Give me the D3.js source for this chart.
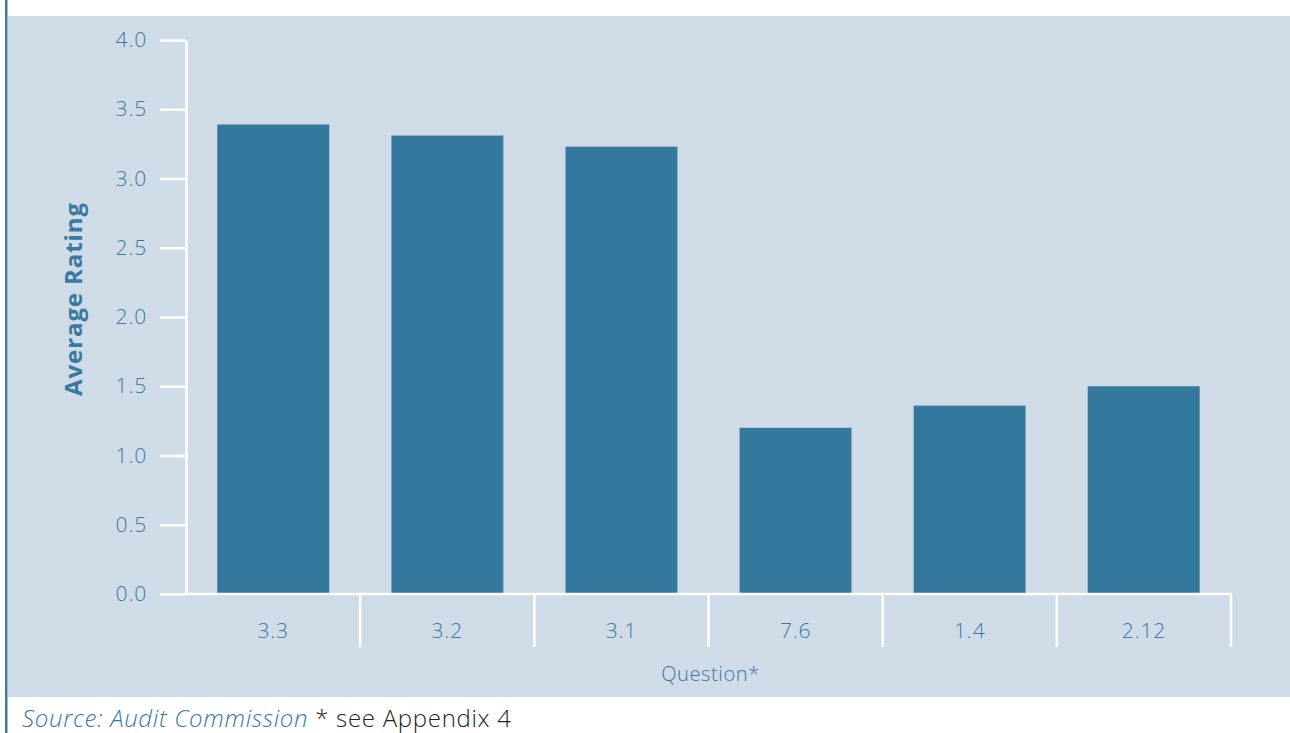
<!DOCTYPE html>
<html>
<head>
<meta charset="utf-8">
<script src="https://cdn.jsdelivr.net/npm/d3@7/dist/d3.min.js"></script>
<style>
  html, body { margin: 0; padding: 0; background: #ffffff; }
  svg { display: block; }
  text { font-family: "Open Sans", Lato, sans-serif; }
</style>
</head>
<body>
<svg id="chart" width="1290" height="733"></svg>
<script>
// Average rating per questionnaire item
const questions = ["3.3", "3.2", "3.1", "7.6", "1.4", "2.12"];
const ratings = [3.39, 3.31, 3.23, 1.2, 1.36, 1.5];
const yTicks = [0, 0.5, 1, 1.5, 2, 2.5, 3, 3.5, 4];

const W = 1290, H = 733;
const panelColor = "#cfdbe6";
const barColor = "#34789d";
const textColor = "#3879a1";

const svg = d3.select("#chart");

// panel background and left rule
svg.append("rect").attr("x", 8).attr("y", 16).attr("width", W - 8).attr("height", 681).attr("fill", panelColor);
svg.append("rect").attr("x", 5).attr("y", 0).attr("width", 2.5).attr("height", H).attr("fill", "#3a7ea5");

const plotLeft = 186, plotRight = 1231, plotTop = 40, plotBottom = 594;

const x = d3.scaleBand().domain(questions).range([plotLeft, plotRight]).paddingInner(0.357).paddingOuter(0.18);
const band = d3.scaleBand().domain(questions).range([plotLeft, plotRight]);
const y = d3.scaleLinear().domain([0, 4]).range([plotBottom, plotTop]);

// bars
svg.append("g").selectAll("rect").data(questions).join("rect")
  .attr("x", (d) => x(d))
  .attr("width", x.bandwidth())
  .attr("y", (d, i) => y(ratings[i]))
  .attr("height", (d, i) => y(0) - y(ratings[i]))
  .attr("fill", barColor);

// y axis
const yAxis = svg.append("g").attr("transform", `translate(${plotLeft},0)`)
  .call(d3.axisLeft(y).tickValues(yTicks).tickFormat(d3.format(".1f")).tickSize(26).tickSizeOuter(0).tickPadding(13));
yAxis.select(".domain").attr("stroke", "#ffffff").attr("stroke-width", 2.5);
yAxis.selectAll(".tick line").attr("stroke", "#ffffff").attr("stroke-width", 2.5);
yAxis.selectAll(".tick text").attr("fill", textColor).attr("font-size", 21).attr("font-weight", 300)
  .attr("letter-spacing", 0.8);

// x axis: labels centred in each band, ticks on band boundaries
const xAxis = svg.append("g").attr("transform", `translate(0,${plotBottom})`)
  .call(d3.axisBottom(band).tickSize(0).tickPadding(29));
xAxis.select(".domain").remove();
xAxis.selectAll(".tick text").attr("fill", textColor).attr("font-size", 21).attr("font-weight", 300)
  .attr("letter-spacing", 0.8);
svg.append("line").attr("x1", plotLeft - 1).attr("x2", plotRight + 1).attr("y1", plotBottom).attr("y2", plotBottom)
  .attr("stroke", "#ffffff").attr("stroke-width", 2.5);
svg.append("g").selectAll("line").data(questions).join("line")
  .attr("x1", (d) => band(d) + band.bandwidth()).attr("x2", (d) => band(d) + band.bandwidth())
  .attr("y1", plotBottom).attr("y2", plotBottom + 53)
  .attr("stroke", "#ffffff").attr("stroke-width", 2.5);

// axis titles
svg.append("text").attr("x", (plotLeft + plotRight) / 2 + 2).attr("y", 681).attr("text-anchor", "middle")
  .attr("fill", textColor).attr("font-size", 20).attr("font-weight", 300).attr("letter-spacing", 0.6).text("Question*");
svg.append("text").attr("transform", "translate(82,299) rotate(-90)").attr("text-anchor", "middle")
  .attr("fill", textColor).attr("font-size", 24).attr("font-weight", 700).attr("letter-spacing", 0.9).text("Average Rating");

// source note
const note = svg.append("text").attr("x", 22).attr("y", 727).attr("font-size", 24).attr("letter-spacing", 0.7);
note.append("tspan").attr("fill", textColor).attr("font-style", "italic").attr("font-weight", 300).text("Source: Audit Commission");
note.append("tspan").attr("fill", "#222222").attr("font-weight", 300).text(" * see Appendix 4");
</script>
</body>
</html>
